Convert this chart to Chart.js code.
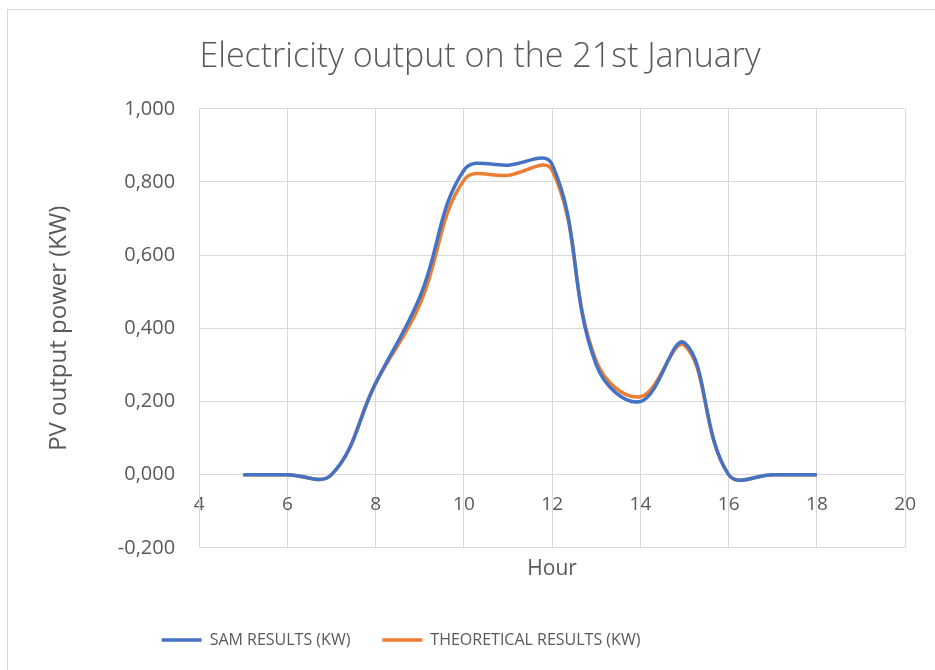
<!DOCTYPE html>
<html>
<head>
<meta charset="utf-8">
<script src="https://cdn.jsdelivr.net/npm/chart.js@4.4.1/dist/chart.umd.min.js"></script>
<style>
  html, body { margin: 0; padding: 0; background: #fff; }
  #wrap { position: relative; width: 935px; height: 670px; }
  #frame { position: absolute; left: 7px; top: 9px; width: 940px; height: 700px; border: 1px solid #d9d9d9; pointer-events: none; }
</style>
</head>
<body>
<div id="wrap">
  <canvas id="pvChart" width="935" height="670"></canvas>
  <div id="frame"></div>
</div>
<script>
// Electricity output on the 21st January - SAM vs theoretical

const hours = [5, 6, 7, 8, 9, 10, 11, 12, 13, 14, 15, 16, 17, 18];
const samResults = [0, 0, 0, 0.25, 0.485, 0.832, 0.846, 0.848, 0.30, 0.20, 0.36, 0, 0, 0];
const theoreticalResults = [0, 0, 0, 0.25, 0.465, 0.805, 0.818, 0.832, 0.31, 0.213, 0.353, 0, 0, 0];
const seriesNames = ['SAM RESULTS (KW)', 'THEORETICAL RESULTS (KW)'];
const xTicks = [4, 6, 8, 10, 12, 14, 16, 18, 20];
const yTicks = [-0.2, 0, 0.2, 0.4, 0.6, 0.8, 1.0];

const textColor = '#595959';
const gridColor = '#d9d9d9';
const fontFamily = '"Open Sans", "Liberation Sans", sans-serif';

const toPoints = vals => hours.map((h, i) => ({ x: h, y: vals[i] }));

// nudge legend / title to where Excel put them
const shiftPlugin = {
  id: 'shiftBlocks',
  afterLayout(chart) {
    if (chart.legend) { chart.legend.left -= 84; chart.legend.right -= 84; }
    if (chart.titleBlock) { chart.titleBlock.left -= 5; chart.titleBlock.right -= 5; }
  }
};

new Chart(document.getElementById('pvChart').getContext('2d'), {
  type: 'line',
  data: {
    datasets: [
      { label: seriesNames[0], data: toPoints(samResults), borderColor: '#4472C4', backgroundColor: '#4472C4', borderWidth: 3.5, pointRadius: 0, tension: 0.4 },
      { label: seriesNames[1], data: toPoints(theoreticalResults), borderColor: '#ED7D31', backgroundColor: '#ED7D31', borderWidth: 3.5, pointRadius: 0, tension: 0.4 }
    ]
  },
  options: {
    responsive: false,
    animation: false,
    layout: { padding: { left: 45, right: 10, top: 20, bottom: 12 } },
    scales: {
      x: {
        type: 'linear',
        position: { y: 0 },
        min: xTicks[0],
        max: xTicks[xTicks.length - 1],
        afterBuildTicks: axis => { axis.ticks = xTicks.map(v => ({ value: v })); },
        ticks: { color: textColor, font: { family: fontFamily, size: 19 }, padding: 19, maxRotation: 0 },
        grid: { color: gridColor, lineWidth: 1, drawTicks: false },
        border: { color: gridColor }
      },
      xTitle: {
        type: 'linear',
        position: 'bottom',
        axis: 'x',
        ticks: { display: false },
        grid: { display: false },
        border: { display: false },
        title: { display: true, text: 'Hour', color: textColor, font: { family: fontFamily, size: 21 }, padding: { top: 1, bottom: 18 } }
      },
      y: {
        min: yTicks[0],
        max: yTicks[yTicks.length - 1],
        afterBuildTicks: axis => { axis.ticks = yTicks.map(v => ({ value: v })); },
        ticks: {
          color: textColor,
          font: { family: fontFamily, size: 20 },
          padding: 24,
          callback: v => v.toFixed(3).replace('.', ',')
        },
        grid: { color: gridColor, lineWidth: 1, drawTicks: false },
        border: { color: gridColor },
        title: { display: true, text: 'PV output power (KW)', color: textColor, font: { family: fontFamily, size: 24 }, padding: { top: 0, bottom: 20 } }
      }
    },
    plugins: {
      title: {
        display: true,
        text: 'Electricity output on the 21st January',
        color: textColor,
        font: { family: fontFamily, size: 34, weight: '300' },
        padding: { top: 17, bottom: 31 }
      },
      legend: {
        position: 'bottom',
        labels: {
          color: textColor,
          font: { family: fontFamily, size: 16 },
          usePointStyle: true,
          pointStyle: 'line',
          pointStyleWidth: 40,
          padding: 32
        }
      },
      tooltip: { enabled: false }
    }
  },
  plugins: [shiftPlugin]
});
</script>
</body>
</html>
